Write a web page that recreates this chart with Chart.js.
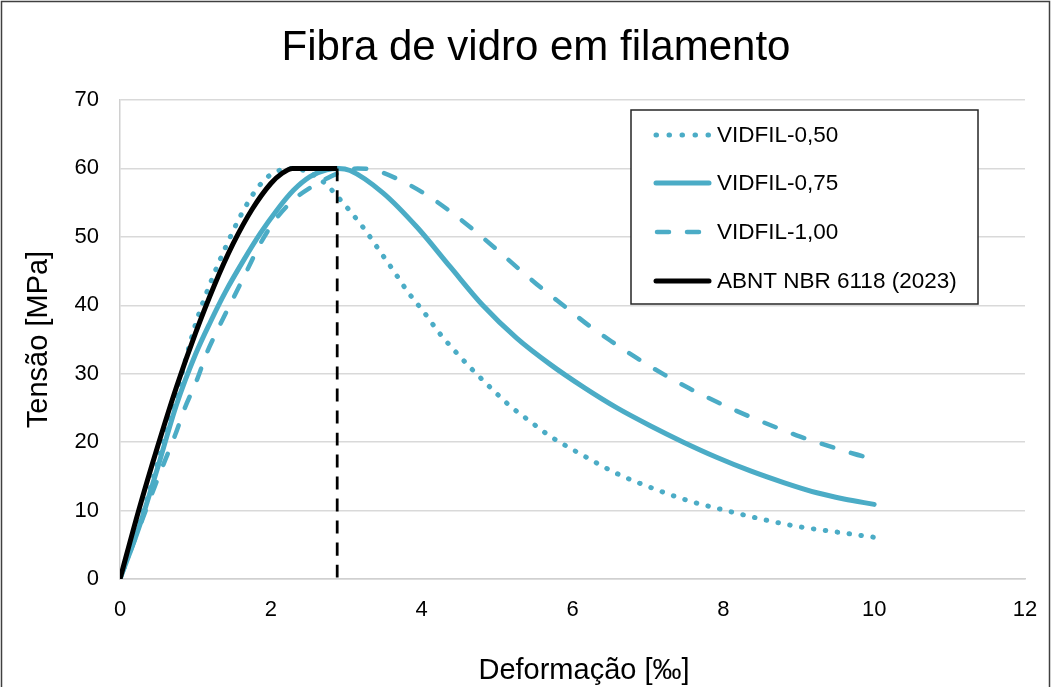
<!DOCTYPE html>
<html>
<head>
<meta charset="utf-8">
<script src="https://cdn.jsdelivr.net/npm/chart.js@4.4.1/dist/chart.umd.min.js"></script>
<style>
  body { margin: 0; background: #fff; }
  #cadre { position: absolute; left: 0; top: 0; width: 1052px; height: 687px; }
</style>
</head>
<body>
<div id="cadre"><canvas id="graphique" width="1052" height="687"></canvas></div>
<script>
// valeurs (deformation en permil, tension en MPa)
const epsVid050 = [0, 0.25, 0.5, 0.75, 1.0, 1.2, 1.4, 1.6, 1.8, 2.0, 2.3, 2.56, 2.7, 2.82, 2.93, 3.04, 3.25, 3.44, 3.63, 3.82, 4.03, 4.23, 4.45, 4.68, 4.92, 5.16, 5.43, 5.7, 6.15, 6.59, 7.03, 7.52, 8.0, 8.49, 8.97, 9.48, 10.0];
const sigVid050 = [0, 7.8, 17.0, 27.0, 37.2, 43.3, 48.5, 53.1, 56.8, 59.1, 60.0, 59.1, 58.0, 56.7, 55.3, 53.9, 51.0, 48.0, 45.0, 41.9, 39.0, 36.0, 33.2, 30.5, 27.9, 25.4, 23.1, 20.9, 18.0, 15.4, 13.4, 11.5, 10.1, 8.8, 7.7, 6.9, 6.1];

const epsVid075 = [0, 0.25, 0.5, 0.75, 1.0, 1.2, 1.4, 1.64, 1.86, 2.08, 2.3, 2.52, 2.74, 2.9, 3.05, 3.49, 3.94, 4.38, 4.81, 5.26, 5.7, 6.15, 6.59, 7.03, 7.47, 7.91, 8.36, 8.8, 9.24, 9.6, 10.0];
const sigVid075 = [0, 7.5, 16.3, 25.5, 32.8, 37.6, 42.0, 46.6, 50.5, 53.9, 56.8, 58.8, 59.8, 60.0, 59.7, 56.4, 51.4, 45.6, 40.0, 35.2, 31.4, 28.0, 25.0, 22.4, 20.0, 17.8, 15.8, 14.1, 12.6, 11.7, 10.9];

const epsVid100 = [0, 0.31, 0.46, 0.6, 0.73, 0.86, 1.02, 1.15, 1.28, 1.5, 1.68, 1.86, 2.06, 2.3, 2.54, 2.79, 3.0, 3.15, 3.36, 3.71, 4.07, 4.38, 4.69, 5.0, 5.28, 5.59, 5.9, 6.21, 6.52, 6.85, 7.21, 7.54, 7.91, 8.25, 8.62, 8.97, 9.35, 9.73, 10.0];
const sigVid100 = [0, 9.1, 13.5, 17.4, 21.0, 25.0, 29.1, 33.0, 36.1, 41.0, 45.0, 49.0, 52.5, 55.4, 57.3, 58.8, 59.7, 60.0, 59.8, 58.3, 56.1, 53.7, 51.0, 48.1, 45.4, 42.5, 39.8, 37.1, 34.7, 32.3, 29.9, 27.9, 25.9, 24.2, 22.5, 21.0, 19.6, 18.3, 17.5];

const epsAbnt = [0, 0.25, 0.5, 0.75, 1.0, 1.25, 1.5, 1.75, 2.0, 2.15, 2.29, 2.88];
const sigAbnt = [0, 10.1, 19.4, 28.1, 35.9, 42.9, 49.0, 54.0, 57.8, 59.3, 60.0, 60.0];

// ligne verticale a la deformation ultime
const epsUltime = [2.88, 2.88];
const sigUltime = [60, 0];

const nomsSeries = ["VIDFIL-0,50", "VIDFIL-0,75", "VIDFIL-1,00", "ABNT NBR 6118 (2023)"];
const titreGraphique = "Fibra de vidro em filamento";
const titreX = "Deformação [‰]";
const titreY = "Tensão [MPa]";
const ticksX = [0, 2, 4, 6, 8, 10, 12];
const ticksY = [0, 10, 20, 30, 40, 50, 60, 70];

const bleu = "rgb(75, 172, 198)";
const police = "'Liberation Sans', Arial, sans-serif";

function points(xs, ys) {
  const tab = [];
  for (var i = 0; i < xs.length; i++) {
    tab.push({ x: xs[i], y: ys[i] });
  }
  return tab;
}

const datasets = [
  {
    label: nomsSeries[0],
    data: points(epsVid050, sigVid050),
    borderColor: bleu,
    borderWidth: 5,
    borderDash: [0.5, 11.5],
    borderCapStyle: "round",
    order: 4,
  },
  {
    label: nomsSeries[1],
    data: points(epsVid075, sigVid075),
    borderColor: bleu,
    borderWidth: 5,
    borderCapStyle: "round",
    order: 3,
  },
  {
    label: nomsSeries[2],
    data: points(epsVid100, sigVid100),
    borderColor: bleu,
    borderWidth: 4.5,
    borderDash: [12, 18.5],
    borderCapStyle: "round",
    order: 2,
  },
  {
    label: nomsSeries[3],
    data: points(epsAbnt, sigAbnt),
    borderColor: "#000",
    borderWidth: 5,
    order: 0,
  },
  {
    label: "limite",
    data: points(epsUltime, sigUltime),
    borderColor: "#000",
    borderWidth: 2.75,
    borderDash: [13, 9],
    order: 1,
  },
];

// cadre exterieur, titre et titre de l'axe x
const moldura = {
  id: "moldura",
  afterDraw(chart) {
    const ctx = chart.ctx;
    ctx.save();
    ctx.strokeStyle = "#404040";
    ctx.lineWidth = 1.5;
    ctx.setLineDash([]);
    ctx.strokeRect(1.5, 1.5, 1048, 705);
    ctx.fillStyle = "#000";
    ctx.textAlign = "center";
    ctx.textBaseline = "middle";
    ctx.font = "42px " + police;
    ctx.fillText(titreGraphique, 536, 48);
    ctx.font = "29px " + police;
    ctx.fillText(titreX, 584, 671);
    ctx.restore();
  },
};

// legende dans une boite
const legendaCaixa = {
  id: "legendaCaixa",
  afterDraw(chart) {
    const ctx = chart.ctx;
    ctx.save();
    ctx.fillStyle = "#fff";
    ctx.fillRect(631, 110, 347, 194);
    ctx.strokeStyle = "#262626";
    ctx.lineWidth = 1.5;
    ctx.setLineDash([]);
    ctx.strokeRect(631, 110, 347, 194);
    const lignes = [135, 183, 232, 281];
    for (var i = 0; i < 4; i++) {
      const ds = chart.data.datasets[i];
      ctx.beginPath();
      ctx.strokeStyle = ds.borderColor;
      ctx.lineWidth = ds.borderWidth;
      ctx.lineCap = ds.borderCapStyle || "round";
      ctx.setLineDash(i === 0 ? [0.5, 12.5] : i === 2 ? [12, 18] : []);
      ctx.moveTo(i === 2 ? 657 : 656, lignes[i]);
      ctx.lineTo(709, lignes[i]);
      ctx.stroke();
      ctx.setLineDash([]);
      ctx.fillStyle = "#000";
      ctx.font = "22.5px " + police;
      ctx.textBaseline = "middle";
      ctx.fillText(nomsSeries[i], 717, lignes[i] + 1);
    }
    ctx.restore();
  },
};

const configuration = {
  type: "line",
  data: { datasets: datasets },
  options: {
    responsive: false,
    animation: false,
    devicePixelRatio: 1,
    layout: { padding: { left: 0, right: 27, top: 100, bottom: 0 } },
    elements: {
      point: { radius: 0 },
      line: { cubicInterpolationMode: "monotone", fill: false },
    },
    plugins: {
      legend: { display: false },
      tooltip: { enabled: false },
      title: { display: false },
    },
    scales: {
      x: {
        type: "linear",
        min: 0,
        max: 12,
        afterBuildTicks(scale) {
          scale.ticks = ticksX.map((v) => ({ value: v }));
        },
        afterFit(scale) {
          scale.height = 108;
          scale.paddingLeft = 0;
          scale.paddingRight = 0;
        },
        grid: { display: false, drawTicks: false },
        border: { display: true, color: "#d0d0d0", width: 1.5 },
        ticks: {
          color: "#000",
          padding: 18,
          font: { family: police, size: 22 },
        },
        title: { display: false },
      },
      y: {
        type: "linear",
        min: 0,
        max: 70,
        afterBuildTicks(scale) {
          scale.ticks = ticksY.map((v) => ({ value: v }));
        },
        afterFit(scale) {
          scale.width = 120;
          scale.paddingTop = 0;
          scale.paddingBottom = 0;
        },
        grid: { color: "#d9d9d9", lineWidth: 1.5, drawTicks: false },
        border: { display: true, color: "#d0d0d0", width: 1.5 },
        ticks: {
          color: "#000",
          padding: 21,
          font: { family: police, size: 22 },
        },
        title: {
          display: true,
          text: titreY,
          color: "#000",
          font: { family: police, size: 29 },
          padding: { top: 22, bottom: 0 },
        },
      },
    },
  },
  plugins: [moldura, legendaCaixa],
};

const graphique = document.getElementById("graphique");
const chart = new Chart(graphique, configuration);
</script>
</body>
</html>
